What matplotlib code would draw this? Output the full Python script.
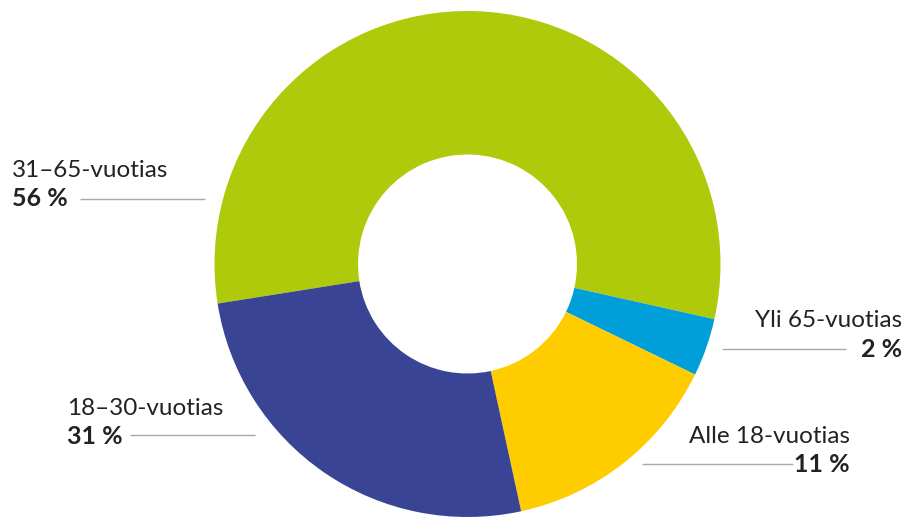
import matplotlib
matplotlib.use("Agg")
import matplotlib.pyplot as plt

# ---- data (clockwise from the left, as drawn) ----
categories = ["31–65-vuotias", "Yli 65-vuotias", "Alle 18-vuotias", "18–30-vuotias"]
shares = [56.0, 3.7, 14.4, 25.9]          # slice sizes as drawn
share_labels = ["56 %", "2 %", "11 %", "31 %"]
colors = ["#AFCA0B", "#009FDA", "#FFCC00", "#394594"]

W, H = 909, 518
fig = plt.figure(figsize=(W / 100, H / 100), dpi=100)
ax = fig.add_axes([0, 0, 1, 1])

R_OUT, R_IN = 253, 109.5
cx, cy = 467.5, H - 264

ax.pie(shares, colors=colors, startangle=189, counterclock=False,
       radius=R_OUT, center=(cx, cy),
       wedgeprops=dict(width=R_OUT - R_IN, linewidth=0))

ax.set_xlim(0, W)
ax.set_ylim(0, H)
ax.set_aspect("equal")
ax.axis("off")

txt_col = "#222222"
line_col = "#A8A8A8"

# label layout: (x, name baseline y, pct baseline y, ha, line x0, line x1, line y)
layout = {
    "31–65-vuotias": (12, 177, 206, "left", 80, 205, 199),
    "Yli 65-vuotias": (902, 327, 357, "right", 722, 846, 349),
    "Alle 18-vuotias": (850, 443, 472, "right", 642, 793, 464),
    "18–30-vuotias": (67, 415, 444, "left", 130, 255, 435),
}

for cat, lab in zip(categories, share_labels):
    x, yn, yp, ha, lx0, lx1, ly = layout[cat]
    ax.text(x, H - yn, cat, ha=ha, va="baseline", fontsize=17.5,
            family="Lato", fontweight="normal", color=txt_col)
    ax.text(x, H - yp, lab, ha=ha, va="baseline", fontsize=18,
            family="Lato", fontweight="bold", color=txt_col)
    ax.plot([lx0, lx1], [H - ly, H - ly], color=line_col, lw=1.0,
            solid_capstyle="butt")

fig.savefig("out.png", dpi=100)
